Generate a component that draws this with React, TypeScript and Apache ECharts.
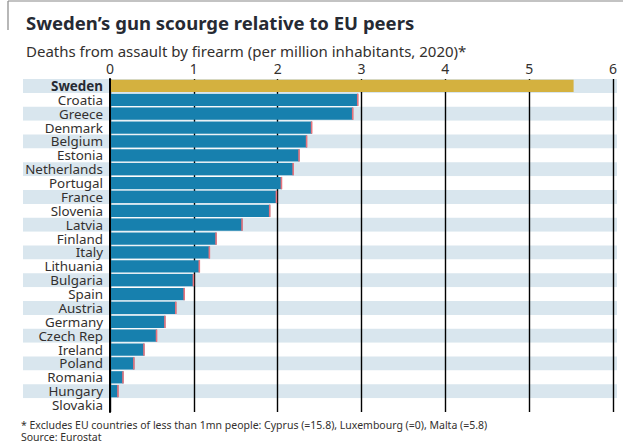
import React, { useEffect, useRef } from "react";
import * as echarts from "echarts";

const categories = [
  "Sweden", "Croatia", "Greece", "Denmark", "Belgium", "Estonia", "Netherlands",
  "Portugal", "France", "Slovenia", "Latvia", "Finland", "Italy", "Lithuania",
  "Bulgaria", "Spain", "Austria", "Germany", "Czech Rep", "Ireland", "Poland",
  "Romania", "Hungary", "Slovakia",
];
const values = [
  5.53, 2.96, 2.9, 2.41, 2.35, 2.26, 2.19, 2.05, 1.99, 1.91, 1.58, 1.27, 1.19,
  1.07, 1.0, 0.89, 0.79, 0.66, 0.56, 0.41, 0.29, 0.16, 0.1, 0,
];
const highlight = "Sweden";
const xMin = 0;
const xMax = 6;
const xInterval = 1;

const titleText = "Sweden\u2019s gun scourge relative to EU peers";
const subtitleText = "Deaths from assault by firearm (per million inhabitants, 2020)*";
const footnoteText =
  "* Excludes EU countries of less than 1mn people: Cyprus (=15.8), Luxembourg (=0), Malta (=5.8)";
const sourceText = "Source: Eurostat";

const FONT = "Noto Sans";
const TEXT = "#33302e";
const BLUE = "#1780ae";
const GOLD = "#d4b13f";
const STRIPE = "#d9e6ee";
const ENDMARK = "#e8737c";

export default function App() {
  const ref = useRef<HTMLDivElement>(null);
  useEffect(() => {
    if (!ref.current) return;
    const chart = echarts.init(ref.current, undefined, { renderer: "svg" });
    const option: any = {
      animation: false,
      backgroundColor: "#fff",
      textStyle: { fontFamily: FONT },
      title: [
        {
          text: titleText,
          left: 21,
          top: 8,
          textStyle: { fontFamily: FONT, fontSize: 18.5, fontWeight: "bold", color: "#262a33" },
        },
        {
          text: subtitleText,
          left: 21,
          top: 38,
          textStyle: { fontFamily: FONT, fontSize: 15, fontWeight: "normal", color: TEXT },
        },
        {
          text: footnoteText,
          left: 21,
          top: 419,
          padding: 0,
          textStyle: { fontFamily: FONT, fontSize: 10.5, lineHeight: 11, fontWeight: "normal", color: TEXT },
        },
        {
          text: sourceText,
          left: 21,
          top: 431,
          padding: 0,
          textStyle: { fontFamily: FONT, fontSize: 10.5, lineHeight: 11, fontWeight: "normal", color: TEXT },
        },
      ],
      graphic: [
        { type: "line", shape: { x1: 8, y1: 1, x2: 623, y2: 1 }, style: { stroke: "#888", lineWidth: 1.2 } },
        { type: "line", shape: { x1: 8, y1: 1, x2: 8, y2: 30 }, style: { stroke: "#888", lineWidth: 1.2 } },
      ],
      grid: [
        { left: 110, right: 11, top: 79, bottom: 35, containLabel: false },
        { left: 23, right: 7, top: 79, bottom: 35, containLabel: false },
      ],
      xAxis: [
        {
          type: "value",
          gridIndex: 0,
          position: "top",
          min: xMin,
          max: xMax,
          interval: xInterval,
          z: 1,
          axisLine: { show: false },
          axisTick: { show: false },
          axisLabel: { fontFamily: FONT, fontSize: 14, color: TEXT, margin: 4 },
          splitLine: { show: true, lineStyle: { color: "#000", width: 1.4 } },
        },
        {
          type: "value",
          gridIndex: 1,
          min: 0,
          max: 1,
          show: false,
        },
      ],
      yAxis: [
        {
          type: "category",
          gridIndex: 0,
          data: categories,
          inverse: true,
          z: 3,
          axisLine: { show: true, lineStyle: { color: "#000", width: 2 } },
          axisTick: { show: false },
          splitLine: { show: false },
          axisLabel: {
            interval: 0,
            fontFamily: FONT,
            fontSize: 13.4,
            lineHeight: 12,
            color: TEXT,
            margin: 7,
            formatter: (v: string) => (v === highlight ? `{b|${v}}` : v),
            rich: { b: { fontFamily: FONT, fontSize: 13.4, lineHeight: 12, fontWeight: "bold", color: "#262a33" } },
          },
        },
        {
          type: "category",
          gridIndex: 1,
          data: categories,
          inverse: true,
          z: 0,
          axisLine: { show: false },
          axisTick: { show: false },
          axisLabel: { show: false },
          splitLine: { show: false },
          splitArea: { show: true, interval: 0, areaStyle: { color: [STRIPE, "#ffffff"] } },
        },
      ],
      series: [
        {
          type: "custom",
          xAxisIndex: 0,
          yAxisIndex: 0,
          z: 2,
          encode: { x: 0, y: 1 },
          data: values.map((v, i) => [v, i]),
          renderItem: (params: any, api: any) => {
            const v = api.value(0);
            const ci = api.value(1);
            const s = api.coord([0, ci]);
            const e = api.coord([v, ci]);
            const band = api.size([0, 1])[1];
            const h = band - 1.6;
            const isHi = categories[ci] === highlight;
            const w = e[0] - s[0];
            const children: any[] = [];
            if (w > 0) {
              children.push({
                type: "rect",
                shape: { x: s[0], y: s[1] - h / 2, width: w, height: h },
                style: { fill: isHi ? GOLD : BLUE },
              });
              if (!isHi) {
                children.push({
                  type: "rect",
                  shape: { x: e[0] - 1.2, y: s[1] - h / 2, width: 1.6, height: h },
                  style: { fill: ENDMARK },
                });
              }
            }
            return { type: "group", children };
          },
        },
      ],
    };
    chart.setOption(option);
    return () => chart.dispose();
  }, []);
  return <div ref={ref} style={{ width: 624, height: 447, position: "absolute", left: 0, top: 0 }} />;
}
